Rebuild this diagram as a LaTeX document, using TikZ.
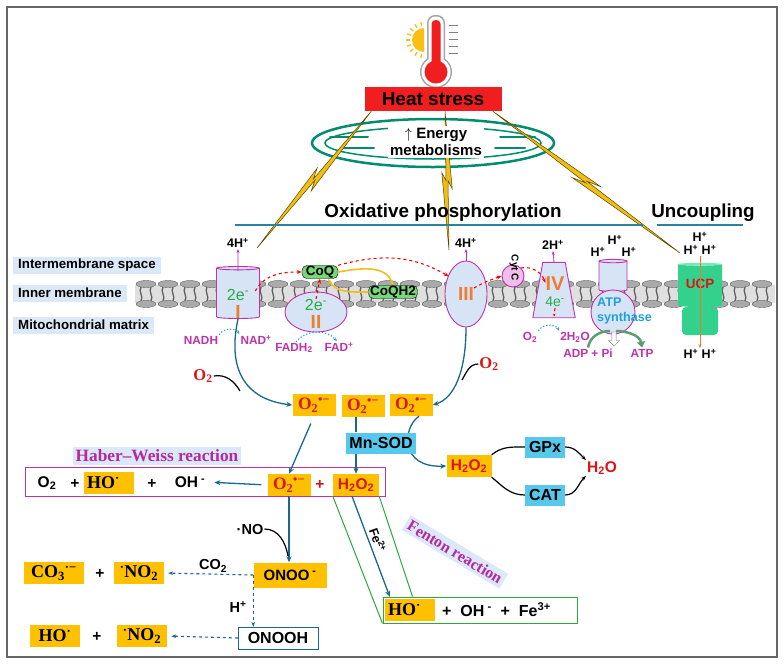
\documentclass[tikz,border=0pt]{standalone}
\usepackage{fontspec}
\setmainfont{Liberation Sans}
\newfontfamily\timesbf{Liberation Serif}
\usetikzlibrary{shapes.geometric, shapes.arrows, arrows.meta, positioning, calc}

\definecolor{heatred}{RGB}{240, 30, 30}
\definecolor{mitoteal}{RGB}{0, 140, 110}
\definecolor{boltyellow}{RGB}{240, 190, 20}
\definecolor{boltedge}{RGB}{90, 70, 0}
\definecolor{lineteal}{RGB}{40, 130, 160}
\definecolor{zonebg}{RGB}{218, 232, 247}
\definecolor{cplxfill}{RGB}{215, 228, 245}
\definecolor{magentac}{RGB}{190, 50, 170}
\definecolor{elecgreen}{RGB}{40, 170, 70}
\definecolor{numorange}{RGB}{237, 125, 49}
\definecolor{coqgreen}{RGB}{120, 215, 120}
\definecolor{cycyellow}{RGB}{240, 190, 30}
\definecolor{cytpink}{RGB}{240, 190, 235}
\definecolor{atpblue}{RGB}{30, 160, 220}
\definecolor{atpgreen}{RGB}{90, 160, 110}
\definecolor{ucpgreen}{RGB}{50, 210, 140}
\definecolor{ucplight}{RGB}{120, 235, 180}
\definecolor{ucporange}{RGB}{240, 120, 50}
\definecolor{gold}{RGB}{255, 192, 0}
\definecolor{rosred}{RGB}{220, 20, 20}
\definecolor{enzblue}{RGB}{85, 200, 235}
\definecolor{arrteal}{RGB}{25, 105, 140}
\definecolor{dotblue}{RGB}{40, 160, 220}
\definecolor{namemag}{RGB}{180, 40, 160}
\definecolor{fengreen}{RGB}{40, 170, 60}
\definecolor{lipid}{RGB}{170, 170, 170}
\definecolor{lipiddark}{RGB}{95, 95, 95}
\definecolor{sunyellow}{RGB}{250, 190, 20}

\tikzset{
  zone/.style={fill=zonebg, anchor=west, inner xsep=5pt, inner ysep=2pt, minimum height=17, font=\bfseries\fontsize{13.3}{15}\selectfont},
  cplx/.style={draw=magentac, fill=cplxfill, line width=0.9pt},
  proton/.style={font=\bfseries\fontsize{12.5}{14}\selectfont, inner sep=1pt},
  elec/.style={text=elecgreen, font=\fontsize{16}{18}\selectfont, inner sep=0pt},
  roman/.style={text=numorange, font=\bfseries\fontsize{19}{21}\selectfont, inner sep=0pt},
  substrate/.style={text=magentac, font=\bfseries\fontsize{11.8}{13}\selectfont, inner sep=1pt},
  quinone/.style={draw=black, fill=coqgreen, rounded corners=5pt, inner xsep=1.5pt, inner ysep=0.5pt, font=\bfseries\fontsize{13.5}{15}\selectfont},
  ros/.style={fill=gold, text=rosred, inner sep=1.5pt, minimum width=43, minimum height=22, font=\timesbf\bfseries\fontsize{17.5}{19}\selectfont},
  golden/.style={fill=gold, inner sep=1.5pt, minimum height=22, font=\timesbf\bfseries\fontsize{18}{20}\selectfont},
  enzyme/.style={fill=enzblue, inner sep=3pt, minimum height=21, font=\bfseries\fontsize{16}{18}\selectfont},
  chem/.style={font=\bfseries\fontsize{15.5}{17}\selectfont, inner sep=1pt},
  o2lbl/.style={text=rosred, font=\timesbf\bfseries\fontsize{16.5}{18}\selectfont, inner sep=1pt},
  rxname/.style={fill=zonebg, inner sep=3pt, text=namemag, font=\timesbf\bfseries\fontsize{17.3}{19}\selectfont},
  title/.style={font=\bfseries\fontsize{18.8}{21}\selectfont},
  note/.style={font=\bfseries\fontsize{14.5}{16}\selectfont, inner sep=1pt},
  tealarr/.style={draw=arrteal, line width=1.3pt, -{Stealth[length=6pt,width=5pt]}},
  tealline/.style={draw=arrteal, line width=1.3pt},
  dasharr/.style={draw=arrteal, line width=1.1pt, dashed, -{Stealth[length=5pt]}},
  redash/.style={draw=red, line width=1.1pt, dashed, -{Stealth[length=5pt]}},
  dotarr/.style={draw=dotblue, line width=1.2pt, dotted, -{Stealth[length=4pt]}},
  cycarr/.style={draw=cycyellow, line width=1.6pt, -{Stealth[length=5pt]}},
}

% lightning bolt between two points
\newcommand{\zap}[2]{%
  \filldraw[fill=boltyellow, draw=boltedge, line width=0.5pt]
    (#1) -- ($(#1)!0.56!(#2)!5pt!90:(#2)$) -- ($(#1)!0.5!(#2)!1pt!90:(#2)$)
    -- (#2) -- ($(#1)!0.44!(#2)!5pt!-90:(#2)$) -- ($(#1)!0.5!(#2)!1pt!-90:(#2)$) -- cycle;}

\begin{document}
\begin{tikzpicture}[x=1pt, y=1pt]
  \useasboundingbox (0,0) rectangle (784,-667);
  \fill[white] (0,0) rectangle (784,-667);
  \draw[gray!80!black, line width=1.5pt] (7,-7) rectangle (777,-657);

  % Thermometer
  \fill[sunyellow] (424,-28) arc (90:270:12) -- cycle;
  \foreach \a in {100,120,...,260}
    \draw[sunyellow, line width=1.3pt] ($(424,-40)+(\a:14)$) -- ($(424,-40)+(\a:18)$);
  \fill[gray!70] (436,-72) circle (16);
  \fill[gray!70, rounded corners=8] (427,-75) rectangle (445,-15);
  \fill[white] (436,-72) circle (14.5);
  \fill[white, rounded corners=7] (428.5,-72) rectangle (443.5,-16.5);
  \fill[heatred] (436,-72) circle (11.5);
  \fill[heatred, rounded corners=4] (431.5,-72) rectangle (440.5,-20);
  \foreach \ty in {25,32,39,46,53}
    \draw[gray, line width=1pt] (449,-\ty) -- (458,-\ty);

  % Heat stress
  \node[fill=heatred, minimum width=137, minimum height=24, inner sep=1pt, font=\bfseries\fontsize{19}{21}\selectfont] (heat) at (433,-99) {Heat stress};

  % Mitochondrion
  \draw[mitoteal, line width=2.5pt] (433,-143) ellipse (121 and 24);
  \draw[mitoteal, line width=1.5pt] (433,-143) ellipse (108 and 16);
  \foreach \cx/\cy/\cl in {330/-137/38, 342/-148/32, 500/-137/35, 495/-148/30}
    \draw[mitoteal, line width=2pt, line cap=round] (\cx,\cy) -- ++(\cl,0);

  % Lightning bolts
  \coordinate (zapL) at ([xshift=7pt]heat.south west);
  \coordinate (zapM) at ([xshift=12pt]heat.south);
  \coordinate (zapR) at ([xshift=-9pt]heat.south east);
  \coordinate (hitI) at (257,-248);
  \coordinate (hitIII) at (449,-250);
  \coordinate (hitU) at (680,-253);
  \zap{zapL}{hitI}
  \zap{zapM}{hitIII}
  \zap{zapR}{hitU}

  \node[fill=white, inner sep=2pt, align=center, font=\bfseries\fontsize{15}{17}\selectfont] (energy) at (436,-142) {$\uparrow$ Energy\\metabolisms};

  % Titles
  \node[title] (oxphos) at (443,-213) {Oxidative phosphorylation};
  \draw[lineteal, line width=1.2pt] (235,-225) -- (643,-225);
  \node[title] (uncoup) at (703,-213) {Uncoupling};
  \draw[lineteal, line width=1.2pt] (657,-225) -- (743,-225);

  % Zones
  \node[zone] (ims) at (13,-265) {Intermembrane space};
  \node[zone] (inner) at (13,-293) {Inner membrane};
  \node[zone] (matrix) at (13,-325) {Mitochondrial matrix};

  % Membrane
  \fill[gray!25] (135,-285) rectangle (775,-303);
  \foreach \mx in {135,157,...,755} {
    \draw[lipiddark, line width=1.3pt] (\mx+6,-287) .. controls (\mx+3,-292) and (\mx+9,-296) .. (\mx+6,-301);
    \draw[lipiddark, line width=1.3pt] (\mx+16,-287) .. controls (\mx+13,-292) and (\mx+19,-296) .. (\mx+16,-301);
    \filldraw[fill=lipid, draw=lipiddark, line width=0.4pt] (\mx+11,-284) ellipse (10 and 3.5);
    \filldraw[fill=lipid, draw=lipiddark, line width=0.4pt] (\mx+11,-304) ellipse (10 and 3.5);
  }

  % Complex I
  \node[cylinder, shape border rotate=90, aspect=0.5, cplx, minimum width=43, minimum height=52] (cI) at (238,-294) {};
  \node[elec] (eI) at (238,-295) {2e\textsuperscript{-}};
  \node[roman] (nI) at (238,-312) {I};
  \node[proton] (hI) at (238,-243) {4H\textsuperscript{+}};
  \draw[magentac, line width=0.8pt, -{Stealth[length=4pt]}] ([yshift=-5pt]cI.north) -- (hI.south);
  \node[substrate] (nadh) at (201,-340) {NADH};
  \node[substrate] (nad) at (256,-340) {NAD\textsuperscript{+}};
  \draw[dotarr] (nadh.north east) to[bend left=60] (nad.north west);

  % Complex II
  \node[ellipse, cplx, minimum width=62, minimum height=40] (cII) at (316,-312) {};
  \node[elec] (eII) at (316,-305) {2e\textsuperscript{-}};
  \node[roman] (nII) at (316,-322) {II};
  \node[substrate] (fadh) at (294,-348) {FADH\textsubscript{2}};
  \node[substrate] (fad) at (339,-347) {FAD\textsuperscript{+}};
  \draw[dotarr] ([xshift=2pt]fadh.north) to[bend left=50] ([xshift=-2pt]fad.north);

  % Quinone pool
  \node[quinone, minimum width=36] (coq) at (320,-272) {CoQ};
  \node[quinone, minimum width=49] (coqh) at (393,-292) {CoQH2};
  \draw[cycarr] (coq.east) to[out=10, in=110] (coqh.north);
  \draw[cycarr] (coqh.west) to[out=180, in=-60] ([xshift=8pt]coq.south);

  % Complex III
  \node[ellipse, cplx, minimum width=42, minimum height=66] (cIII) at (466,-294) {};
  \node[roman] (nIII) at (466,-294) {III};
  \node[proton] (hIII) at (466,-243) {4H\textsuperscript{+}};
  \draw[magentac, line width=0.8pt, -{Stealth[length=4pt]}] (cIII.north) -- (hIII.south);

  % Cytochrome c
  \node[circle, draw=magentac, fill=cytpink, line width=0.9pt, minimum size=22, inner sep=0pt] (cytc) at (513,-276) {};
  \node[rotate=-90, font=\bfseries\fontsize{10}{11}\selectfont, inner sep=0pt] (cyttxt) at (514,-268) {Cyt C};

  % Complex IV
  \node[minimum width=42, minimum height=55, inner sep=0pt] (cIV) at (554,-290) {};
  \draw[cplx] (cIV.south west) -- ([xshift=10pt]cIV.north west) -- ([xshift=-10pt]cIV.north east) -- (cIV.south east) -- cycle;
  \node[roman, font=\bfseries\fontsize{20}{22}\selectfont] (nIV) at (555,-284) {IV};
  \node[elec, font=\fontsize{14}{16}\selectfont] (eIV) at (555,-302) {4e\textsuperscript{-}};
  \node[proton] (hIV) at (553,-245) {2H\textsuperscript{+}};
  \draw[magentac, line width=0.8pt, -{Stealth[length=4pt]}] (cIV.north) -- (hIV.south);
  \node[substrate] (o2iv) at (530,-337) {O\textsubscript{2}};
  \node[substrate] (water4) at (575,-337) {2H\textsubscript{2}O};
  \draw[dotarr] (o2iv.north east) to[bend left=60] (water4.north west);
  \draw[red, line width=1.1pt, dashed, -{Stealth[length=3pt]}] ([yshift=-1pt]eIV.south) -- ([yshift=1pt]cIV.south);

  % Electron flow
  \draw[redash] ([xshift=6pt,yshift=4pt]eI.east) to[out=60, in=180] (coq.west);
  \draw[redash] (eII.north) -- (coq.south);
  \draw[redash] (coq.north east) to[out=15, in=150] ([xshift=-2pt,yshift=-6pt]cIII.north west);
  \draw[redash] ([xshift=8pt,yshift=6pt]cIII.center) to[out=30, in=200] (cytc.west);
  \draw[redash] (cytc.north east) to[out=10, in=110] ([yshift=-6pt]nIV.north west);

  % ATP synthase
  \node[cylinder, shape border rotate=90, aspect=0.5, cplx, minimum width=28, minimum height=32] (atpstalk) at (613,-277) {};
  \node[circle, cplx, minimum size=44] (atphead) at (613,-312) {};
  \node[anchor=west, align=left, text=atpblue, inner sep=0pt, font=\bfseries\fontsize{12.6}{15}\selectfont] (atptxt) at (597,-311) {ATP\\synthase};
  \node[proton] (hA1) at (615,-240) {H\textsuperscript{+}};
  \node[proton] (hA2) at (598,-252) {H\textsuperscript{+}};
  \node[proton] (hA3) at (629,-252) {H\textsuperscript{+}};
  \node[substrate] (adp) at (588,-353) {ADP + Pi};
  \node[substrate] (atp) at (642,-353) {ATP};
  \draw[atpgreen, line width=2.5pt] (adp.north) to[out=80, in=180] (610,-331);
  \draw[atpgreen, line width=2.5pt, -{Triangle[length=6pt,width=8pt]}] (616,-331) to[out=0, in=100] (atp.north);
  \node[single arrow, draw=gray, fill=white, minimum height=14, minimum width=11, single arrow head extend=2pt, inner sep=1pt, rotate=-90] (atpdown) at (614,-338) {};

  % UCP
  \node[cylinder, shape border rotate=90, aspect=0.4, cylinder uses custom fill, cylinder body fill=ucpgreen, cylinder end fill=ucplight, minimum width=44, minimum height=44] (ucp) at (700,-286) {};
  \node[fill=ucpgreen, rounded corners=4pt, minimum width=36, minimum height=28] (ucpb) at (700,-321) {};
  \node[text=rosred, font=\bfseries\fontsize{13.5}{15}\selectfont] (ucptxt) at (700,-284) {UCP};
  \node[proton] (hU1) at (700,-237) {H\textsuperscript{+}};
  \node[proton] (ucpin) at (700,-250) {H\textsuperscript{+} H\textsuperscript{+}};
  \node[proton] (ucpout) at (700,-354) {H\textsuperscript{+} H\textsuperscript{+}};
  \draw[ucporange, line width=1pt, -{Stealth[length=4pt]}] (ucpin.south) -- (ucpout.north);

  % Superoxide formation
  \node[ros] (ros1) at (314,-405) {O\textsubscript{2}\textsuperscript{•−}};
  \node[ros] (ros2) at (363,-406) {O\textsubscript{2}\textsuperscript{•−}};
  \node[ros] (ros3) at (411,-405) {O\textsubscript{2}\textsuperscript{•−}};
  \node[o2lbl] (o2a) at (203,-376) {O\textsubscript{2}};
  \node[o2lbl] (o2b) at (489,-364) {O\textsubscript{2}};
  \draw[tealarr] (cI.south) .. controls (226,-375) and (250,-400) .. (ros1.west);
  \draw[line width=1.2pt] (o2a.east) to[out=10, in=120] (240,-391);
  \draw[tealarr] (cIII.south) .. controls (466,-370) and (455,-398) .. (ros3.east);
  \draw[line width=1.2pt] (o2b.west) to[out=180, in=60] (462,-380);

  % Dismutation
  \node[golden, text=rosred, font=\bfseries\fontsize{15.5}{17}\selectfont, minimum width=45] (perox) at (469,-466) {H\textsubscript{2}O\textsubscript{2}};
  \draw[tealarr] ([xshift=8pt]ros3.south) .. controls (402,-428) and (400,-468) .. (perox.west);
  \node[enzyme] (sod) at (381,-443) {Mn-SOD};
  \node[enzyme, minimum width=40] (gpx) at (545,-447) {GPx};
  \node[enzyme, minimum width=40] (cat) at (545,-495) {CAT};
  \node[chem, text=rosred] (water) at (602,-468) {H\textsubscript{2}O};
  \draw[line width=1.2pt] (perox.north east) to[out=40, in=180] (gpx.west);
  \draw[line width=1.2pt, -{Stealth[length=5pt]}] (gpx.east) to[out=0, in=135] (water.north west);
  \draw[line width=1.2pt] (perox.south east) to[out=-40, in=180] (cat.west);
  \draw[line width=1.2pt, -{Stealth[length=5pt]}] (cat.east) to[out=0, in=-135] (water.south west);

  % Haber-Weiss
  \node[draw=magentac, line width=1pt, minimum width=360, minimum height=29] (hwbox) at (205,-482) {};
  \node[rxname] (hwname) at (157,-456) {Haber–Weiss reaction};
  \node[chem] (hwo2) at (47,-483) {O\textsubscript{2}};
  \node[chem] (hwplus1) at (75,-484) {+};
  \node[golden, minimum width=50, text width=44] (hwho) at (109,-483) {HO\textsuperscript{·}};
  \node[chem] (hwplus2) at (152,-484) {+};
  \node[chem] (hwoh) at (190,-482) {OH\textsuperscript{ -}};
  \node[ros] (hwsup) at (289,-485) {O\textsubscript{2}\textsuperscript{•−}};
  \node[chem, text=rosred] (hwplus3) at (320,-485) {+};
  \node[golden, text=rosred, font=\bfseries\fontsize{15.5}{17}\selectfont, minimum width=46] (hwperox) at (356,-485) {H\textsubscript{2}O\textsubscript{2}};
  \draw[tealarr, shorten <=6pt, shorten >=8pt] (hwsup.west) -- (hwoh.east);
  \draw[tealarr, shorten <=8pt] (ros1.south) -- (hwsup.north);
  \draw[tealline] (ros2.south -| hwperox.north) -- (sod.north -| hwperox.north);
  \draw[tealarr] (sod.south -| hwperox.north) -- (hwperox.north);

  % Fenton
  \node[draw=fengreen, line width=1pt, minimum width=194, minimum height=26] (fenbox) at (480,-610) {};
  \node[golden, minimum width=50, text width=44] (fenho) at (410,-610) {HO\textsuperscript{·}};
  \node[chem, anchor=west, font=\bfseries\fontsize{16}{18}\selectfont] (fenrest) at (441,-610) {+~ OH\textsuperscript{ -} ~+~ Fe\textsuperscript{3+}};
  \draw[fengreen, line width=1pt] (hwperox.south west) -- (fenbox.south west);
  \draw[fengreen, line width=1pt] (hwperox.south east) -- ([xshift=30pt]fenbox.north west);
  \draw[tealarr] ([xshift=-4pt]hwperox.south) -- ([xshift=5pt,yshift=2pt]fenho.north west);
  \node[rotate=-70, font=\bfseries\fontsize{12.5}{14}\selectfont] (fe2) at (378,-540) {Fe\textsuperscript{2+}};
  \node[rxname, rotate=-31, font=\timesbf\bfseries\fontsize{16}{18}\selectfont] (fenname) at (455,-552) {Fenton reaction};

  % Peroxynitrite
  \node[golden, font=\bfseries\fontsize{15}{17}\selectfont, minimum width=73, minimum height=25] (onoo) at (290,-575) {ONOO\textsuperscript{ -}};
  \node[draw=arrteal, fill=white, minimum width=80, minimum height=22, inner sep=1pt, font=\bfseries\fontsize{16}{18}\selectfont] (onooh) at (278,-638) {ONOOH};
  \node[note] (nolbl) at (250,-529) {·NO};
  \draw[tealarr] (hwsup.south) -- (hwsup.south |- onoo.north);
  \draw[line width=1.2pt] (nolbl.east) to[out=0, in=100] (288,-556);

  \node[golden, minimum width=60] (co3) at (54,-573) {CO\textsubscript{3}\textsuperscript{·−}};
  \node[chem] (bplus1) at (100,-574) {+};
  \node[golden, minimum width=50] (no2a) at (139,-573) {\textsuperscript{·}NO\textsubscript{2}};
  \node[golden, minimum width=50] (ho2) at (55,-636) {HO\textsuperscript{·}};
  \node[chem] (bplus2) at (97,-637) {+};
  \node[golden, minimum width=50] (no2b) at (142,-636) {\textsuperscript{·}NO\textsubscript{2}};

  \draw[dasharr, shorten >=4pt] (onoo.west) -- (no2a.east);
  \draw[dasharr] (onoo.west) -- (onoo.west |- onooh.north);
  \draw[dasharr, shorten >=4pt] (onooh.west) -- (no2b.east);
  \node[note] (co2) at (213,-566) {CO\textsubscript{2}};
  \node[note] (hplus) at (238,-607) {H\textsuperscript{+}};
\end{tikzpicture}
\end{document}
